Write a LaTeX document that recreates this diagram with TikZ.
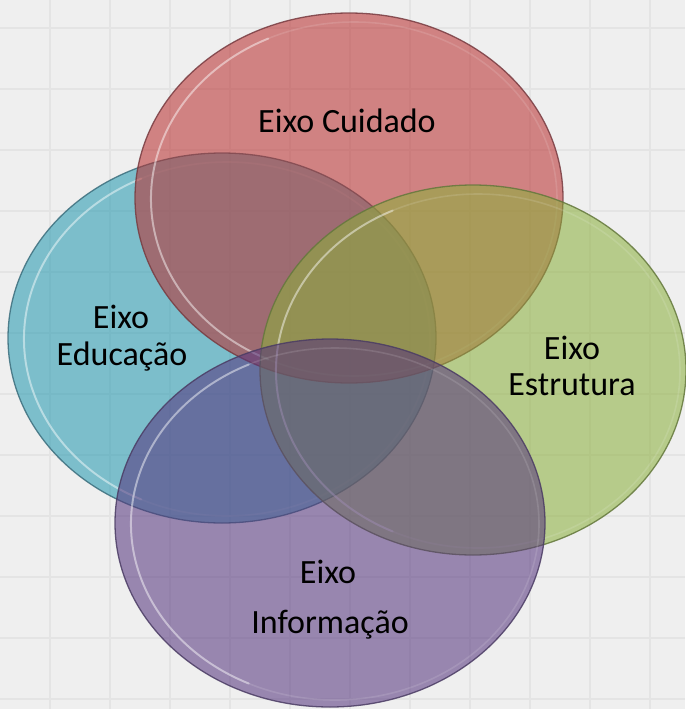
\documentclass[tikz,border=0pt]{standalone}
\usepackage{fontspec}
\setmainfont{Carlito}
\definecolor{bgc}{HTML}{EFEFEF}
\definecolor{gridc}{HTML}{E4E4E4}
\definecolor{redc}{RGB}{185,45,45}
\definecolor{bluec}{RGB}{34,152,175}
\definecolor{greenc}{RGB}{139,175,59}
\definecolor{purplec}{RGB}{85,52,125}
\definecolor{redl}{RGB}{120,60,65}
\definecolor{bluel}{RGB}{60,110,125}
\definecolor{greenl}{RGB}{100,120,60}
\definecolor{purplel}{RGB}{75,60,100}
\begin{document}
\begin{tikzpicture}[x=1pt,y=-1pt,
  lbl/.style={font=\fontsize{34}{40}\selectfont, text=black, inner sep=0pt, anchor=base},
  disc/.style={fill=#1c, fill opacity=0.56, draw=#1l, draw opacity=0.85, line width=1.3pt},
  rimfull/.style={draw=white, draw opacity=0.12, line width=1.6pt, fill=none},
  rimleft/.style={draw=white, draw opacity=0.4, line width=2pt, fill=none, line cap=round},
  gridline/.style={draw=gridc, line width=1.1pt}]
\useasboundingbox (0,0) rectangle (685,709);
\fill[bgc] (0,0) rectangle (685,709);
\foreach \x in {50,110,...,650} \draw[gridline] (\x,0) -- (\x,709);
\foreach \y in {28,89,...,699} \draw[gridline] (0,\y) -- (685,\y);
% Educacao (blue)
\path[disc=blue] (222,338) ellipse [x radius=214, y radius=185];
\path[rimfull] (227,339) ellipse [x radius=203, y radius=177];
\path[rimleft] (227,339) ++(115:203 and 177) arc[start angle=115, end angle=245, x radius=203, y radius=177];
% Cuidado (red)
\path[disc=red] (349,198) ellipse [x radius=214, y radius=185];
\path[rimfull] (354,199) ellipse [x radius=203, y radius=177];
\path[rimleft] (354,199) ++(115:203 and 177) arc[start angle=115, end angle=245, x radius=203, y radius=177];
% Estrutura (green)
\path[disc=green] (473,370) ellipse [x radius=213, y radius=185];
\path[rimfull] (478,371) ellipse [x radius=202, y radius=177];
\path[rimleft] (478,371) ++(115:202 and 177) arc[start angle=115, end angle=245, x radius=202, y radius=177];
% Informacao (purple)
\path[disc=purple] (330,523) ellipse [x radius=215, y radius=184];
\path[rimfull] (335,524) ellipse [x radius=204, y radius=176];
\path[rimleft] (335,524) ++(115:204 and 176) arc[start angle=115, end angle=245, x radius=204, y radius=176];
% labels
\node[lbl] (cuid) at (347,132) {Eixo Cuidado};
\node[lbl] (edu1) at (121,328) {Eixo};
\node[lbl] (edu2) at (122,365) {Educação};
\node[lbl] (est1) at (572,359) {Eixo};
\node[lbl] (est2) at (572,395) {Estrutura};
\node[lbl] (inf1) at (328,583) {Eixo};
\node[lbl] (inf2) at (330,633) {Informação};
\end{tikzpicture}
\end{document}
